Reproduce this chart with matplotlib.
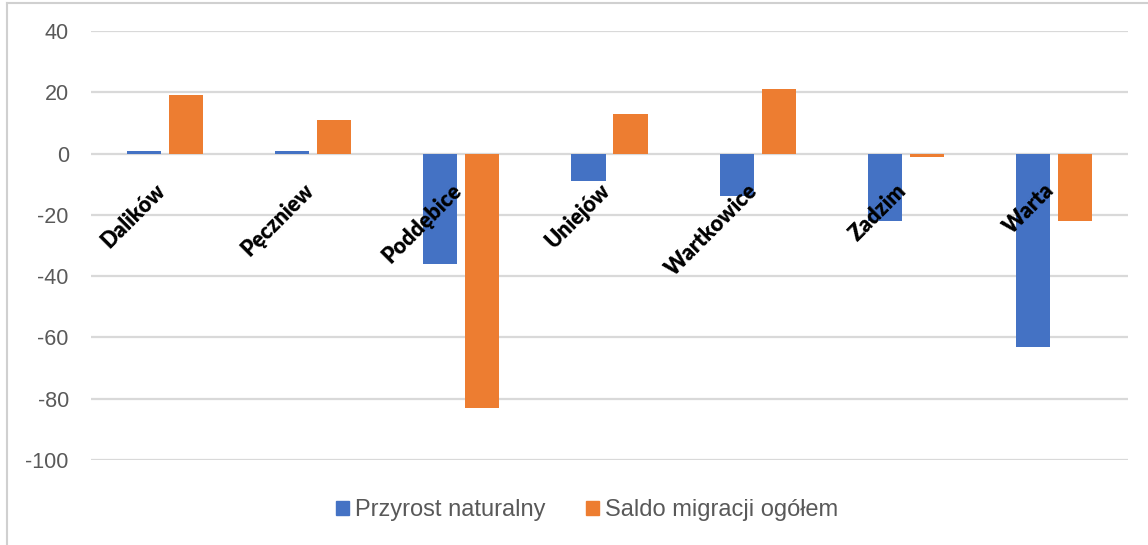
import numpy as np
import matplotlib.pyplot as plt
from matplotlib.lines import Line2D
from matplotlib.patches import Patch

gminy = ['Dalików', 'Pęczniew', 'Poddębice', 'Uniejów', 'Wartkowice', 'Zadzim', 'Warta']
przyrost = [1, 1, -36, -9, -14, -22, -63]
saldo = [19, 11, -83, 13, 21, -1, -22]
yticks = [40, 20, 0, -20, -40, -60, -80, -100]

blue = '#4472C4'
orange = '#ED7D31'
grid_c = '#D9D9D9'
text_c = '#595959'

fig = plt.figure(figsize=(11.48, 5.45), dpi=100)
ax = fig.add_axes([91 / 1148, 1 - 460 / 545, (1128 - 91) / 1148, (460 - 31) / 545])

x = np.arange(len(gminy))
w = 0.23
ax.bar(x - 0.142, przyrost, w, color=blue, zorder=3)
ax.bar(x + 0.142, saldo, w, color=orange, zorder=3)

ax.set_xlim(-0.5, len(gminy) - 0.5)
ax.set_ylim(-100, 40)
ax.set_yticks(yticks)
ax.set_yticklabels([str(v) for v in yticks], family='Liberation Sans', fontsize=15.5, color=text_c)
ax.tick_params(axis='y', length=0, pad=16)
ax.set_xticks([])
for s in ax.spines.values():
    s.set_visible(False)
ax.grid(axis='y', color=grid_c, linewidth=1.6, zorder=0)

# category names drawn inside the plot, rotated
for i, name in enumerate(gminy):
    ax.text(i - 0.07, -8.5, name, rotation=45, rotation_mode='anchor', ha='right', va='top',
            family='Lato', fontweight='heavy', fontsize=15.5, color='black', zorder=4)

handles = [Patch(color=blue, label='Przyrost naturalny'),
           Patch(color=orange, label='Saldo migracji ogółem')]
leg = fig.legend(handles=handles, loc='center', bbox_to_anchor=(587 / 1148, 1 - 510 / 545), ncol=2,
                 frameon=False, prop={'family': 'Liberation Sans', 'size': 17},
                 handlelength=0.55, handleheight=0.55, handletextpad=0.25, columnspacing=1.7)
for t in leg.get_texts():
    t.set_color(text_c)

# chart border (left and top edge)
fig.add_artist(Line2D([7 / 1148, 7 / 1148], [0, 1 - 3 / 545], color='#D0D0D0', lw=1.5))
fig.add_artist(Line2D([7 / 1148, 1], [1 - 3 / 545, 1 - 3 / 545], color='#D0D0D0', lw=1.5))

fig.savefig('out.png', dpi=100)
